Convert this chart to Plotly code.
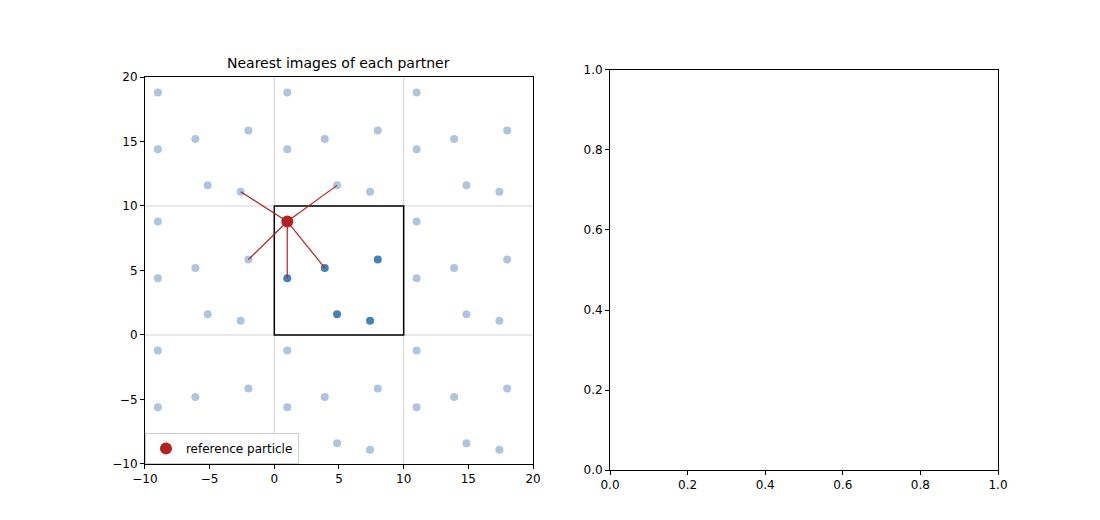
import numpy as np
import plotly.graph_objects as go

box = 10.0
ref_x, ref_y = 1.0, 8.8
partner_x = [1.0, 3.9, 8.0, 4.85, 7.4]
partner_y = [4.4, 5.2, 5.85, 1.6, 1.1]
shifts = [-1, 0, 1]

# periodic images of all particles (ref included), excluding originals
img_x, img_y = [], []
for px, py in zip([ref_x] + partner_x, [ref_y] + partner_y):
    for i in shifts:
        for j in shifts:
            if i == 0 and j == 0:
                continue
            img_x.append(px + i * box)
            img_y.append(py + j * box)

# nearest image of each partner
near_x, near_y = [], []
for px, py in zip(partner_x, partner_y):
    dx = px - ref_x
    dy = py - ref_y
    dx -= box * np.round(dx / box)
    dy -= box * np.round(dy / box)
    near_x.append(ref_x + dx)
    near_y.append(ref_y + dy)

fig = go.Figure()
line_x, line_y = [], []
for nx, ny in zip(near_x, near_y):
    line_x += [ref_x, nx, None]
    line_y += [ref_y, ny, None]

fig.add_trace(go.Scatter(x=img_x, y=img_y, mode="markers", showlegend=False,
                         marker=dict(color="#b0c4de", size=8)))
fig.add_trace(go.Scatter(x=partner_x, y=partner_y, mode="markers", showlegend=False,
                         marker=dict(color="#4682b4", size=8)))
fig.add_trace(go.Scatter(x=line_x, y=line_y, mode="lines", showlegend=False,
                         line=dict(color="#b22222", width=1.2)))
fig.add_trace(go.Scatter(x=[ref_x], y=[ref_y], mode="markers", name="reference particle",
                         marker=dict(color="#b22222", size=12)))
# empty right axes
fig.add_trace(go.Scatter(x=[None], y=[None], xaxis="x2", yaxis="y2", showlegend=False))

for v in [0, 10]:
    fig.add_shape(type="line", xref="x", yref="paper", x0=v, x1=v, y0=0.1231, y1=0.8673,
                  line=dict(color="lightgrey", width=1), layer="below")
    fig.add_shape(type="line", xref="paper", yref="y", x0=0.1245, x1=0.4773, y0=v, y1=v,
                  line=dict(color="lightgrey", width=1), layer="below")
fig.add_shape(type="rect", xref="x", yref="y", x0=0, x1=box, y0=0, y1=box,
              line=dict(color="black", width=1.5), layer="below")

ax = dict(showgrid=False, zeroline=False, showline=True, mirror=True, linecolor="black",
          ticks="outside", ticklen=4, tickcolor="black", automargin=False)
fig.update_layout(
    width=1100, height=520, margin=dict(l=0, r=0, t=0, b=0),
    plot_bgcolor="white", paper_bgcolor="white",
    font=dict(family="DejaVu Sans", size=12, color="black"),
    xaxis=dict(ax, domain=[0.1245, 0.4773], range=[-10, 20], dtick=5),
    yaxis=dict(ax, domain=[0.1231, 0.8673], range=[-10, 20], dtick=5),
    xaxis2=dict(ax, domain=[0.5473, 0.9], range=[0, 1], dtick=0.2, tickformat=".1f", anchor="y2"),
    yaxis2=dict(ax, domain=[0.1115, 0.8808], range=[0, 1], dtick=0.2, tickformat=".1f", anchor="x2"),
    annotations=[dict(text="Nearest images of each partner", xref="paper", yref="paper",
                      x=0.3009, y=0.8673, yshift=4, showarrow=False, xanchor="center",
                      yanchor="bottom", font=dict(size=14))],
    legend=dict(x=0.1245, y=0.1231, xanchor="left", yanchor="bottom", bordercolor="#cccccc",
                borderwidth=1, bgcolor="rgba(255,255,255,0.8)"),
)
fig.write_html("out.html")
